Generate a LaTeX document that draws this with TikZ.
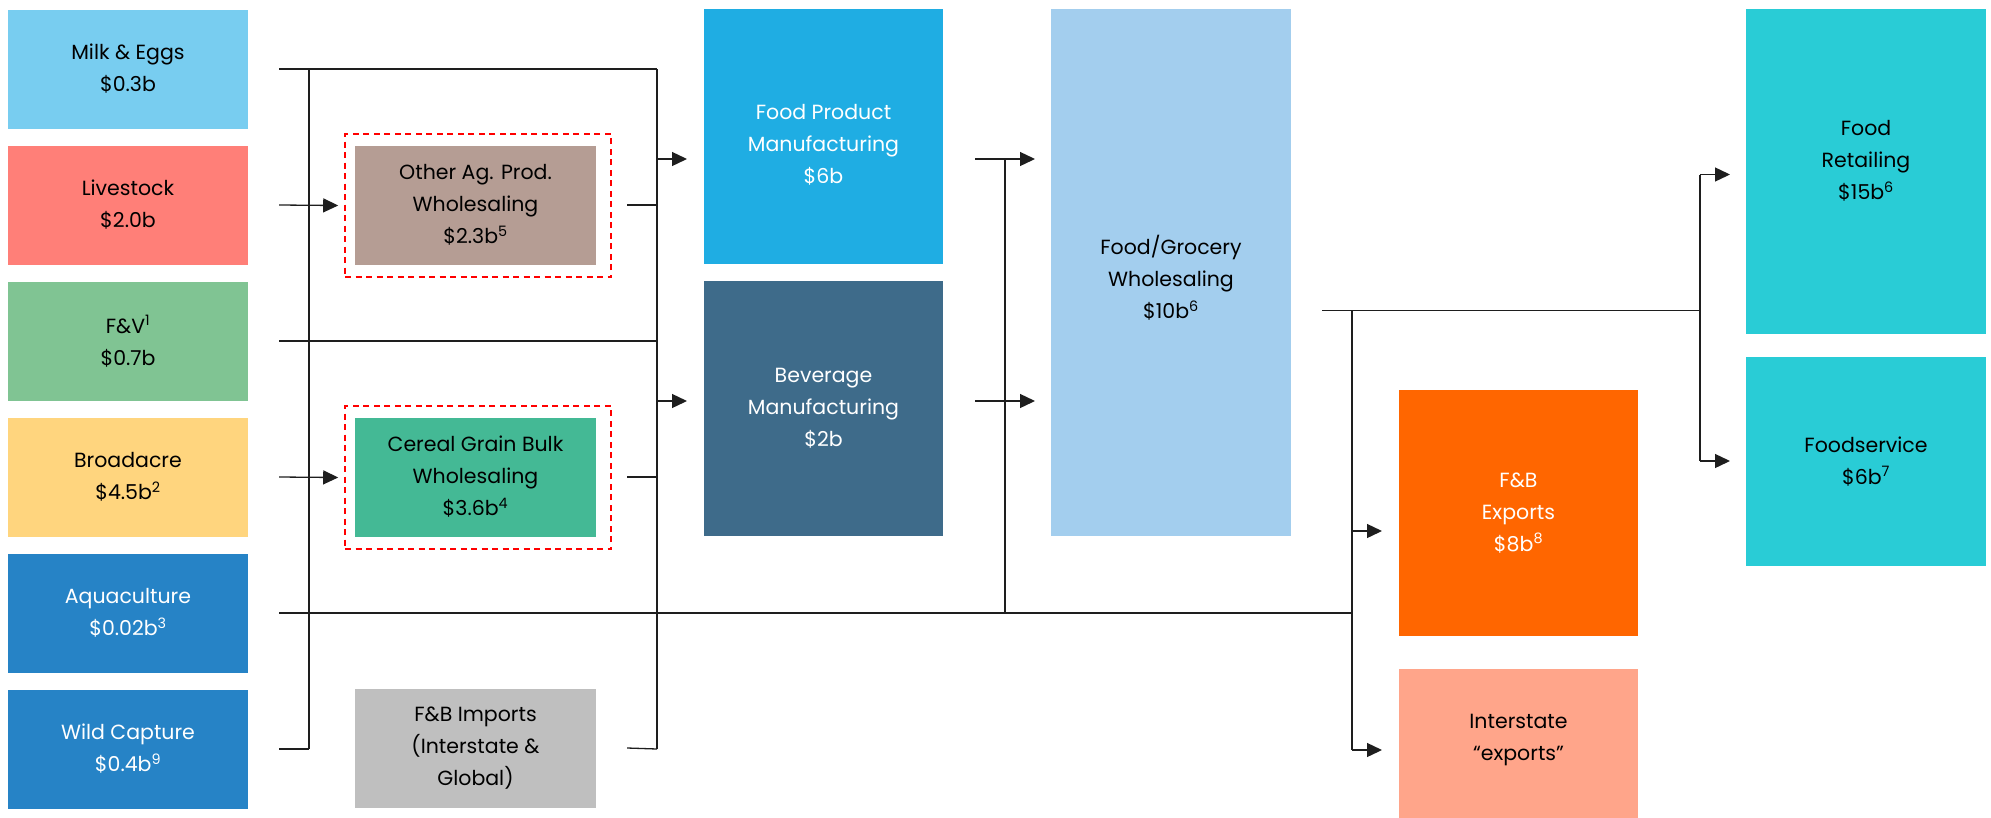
\documentclass[tikz,border=0pt]{standalone}
\usepackage{fontspec}
\setmainfont{Poppins}
\usetikzlibrary{arrows.meta,calc}
\definecolor{cMilk}{HTML}{78CDF0}
\definecolor{cLive}{HTML}{FF7F78}
\definecolor{cFV}{HTML}{80C493}
\definecolor{cBroad}{HTML}{FFD57E}
\definecolor{cSea}{HTML}{2683C6}
\definecolor{cOag}{HTML}{B59D94}
\definecolor{cCereal}{HTML}{44B995}
\definecolor{cImp}{HTML}{BFBFBF}
\definecolor{cFood}{HTML}{1FADE3}
\definecolor{cBev}{HTML}{3E6B8A}
\definecolor{cGroc}{HTML}{A3CEEE}
\definecolor{cExp}{HTML}{FF6600}
\definecolor{cInter}{HTML}{FFA58A}
\definecolor{cRetail}{HTML}{29CCD6}
\definecolor{cWire}{HTML}{1E1E1E}
\begin{document}
\begin{tikzpicture}[x=1pt,y=-1pt,
  box/.style={inner sep=0pt, align=center, text=black,
    font=\fontsize{20.5}{32}\selectfont, minimum width=240pt},
  lbl/.style={inner sep=0pt, align=center, text=black,
    font=\fontsize{20.5}{32}\selectfont},
  wire/.style={line width=1.3pt, draw=cWire},
  arr/.style={wire, -{Triangle[length=15pt,width=14pt]}},
  fence/.style={draw=red, line width=1.6pt, dash pattern=on 6pt off 4.5pt,
    minimum width=266pt, minimum height=143pt, inner sep=0pt}]
\useasboundingbox (0,0) rectangle (1991,817);

% primary producers
\node[box, fill=cMilk,  minimum height=119pt] (milk)  at (128,69)  {Milk \& Eggs\\\$0.3b};
\node[box, fill=cLive,  minimum height=119pt] (live)  at (128,205) {Livestock\\\$2.0b};
\node[box, fill=cFV,    minimum height=119pt] (fv)    at (128,341) {F\&V\textsuperscript{1}\\\$0.7b};
\node[box, fill=cBroad, minimum height=119pt] (broad) at (128,477) {Broadacre\\\$4.5b\textsuperscript{2}};
\node[box, fill=cSea, text=white, minimum height=119pt] (aqua) at (128,613) {Aquaculture\\\$0.02b\textsuperscript{3}};
\node[box, fill=cSea, text=white, minimum height=119pt] (wild) at (128,749) {Wild Capture\\\$0.4b\textsuperscript{9}};

% wholesaling and imports
\node[fence] (fence1) at (478,205.5) {};
\node[fence] (fence2) at (478,477.5) {};
\node[box, fill=cOag,    minimum width=241pt, minimum height=119pt] (oag)    at (475.5,205) {Other Ag. Prod.\\Wholesaling\\\$2.3b\textsuperscript{5}};
\node[box, fill=cCereal, minimum width=241pt, minimum height=119pt] (cereal) at (475.5,477) {Cereal Grain Bulk\\Wholesaling\\\$3.6b\textsuperscript{4}};
\node[box, fill=cImp,    minimum width=241pt, minimum height=119pt] (imp)    at (475.5,748) {F\&B Imports\\(Interstate \&\\Global)};

% manufacturing
\node[box, fill=cFood, minimum width=239pt, minimum height=255pt] (fp)  at (823.5,136.5) {};
\node[lbl, text=white] (fp-t) at (823.5,145) {Food Product\\Manufacturing\\\$6b};
\node[box, fill=cBev, text=white, minimum width=239pt, minimum height=255pt] (bev) at (823.5,408.5) {Beverage\\Manufacturing\\\$2b};

% wholesaling
\node[box, fill=cGroc, minimum height=527pt] (groc) at (1171,272.5) {};
\node[lbl] (groc-t) at (1171,278) {Food/Grocery\\Wholesaling\\\$10b\textsuperscript{6}};

% exports
\node[box, fill=cExp, text=white, minimum width=239pt, minimum height=246pt] (exp) at (1518.5,513) {F\&B\\Exports\\\$8b\textsuperscript{8}};
\node[box, fill=cInter, minimum width=239pt, minimum height=160pt] (inter) at (1518.5,749) {};
\node[lbl] (inter-t) at (1518.5,740) {Interstate\\“exports”};

% retail and service
\node[box, fill=cRetail, minimum height=325pt] (ret) at (1866,171.5) {};
\node[lbl] (ret-t) at (1866,161) {Food\\Retailing\\\$15b\textsuperscript{6}};
\node[box, fill=cRetail, minimum height=209pt] (fs) at (1866,461.5) {Foodservice\\\$6b\textsuperscript{7}};

% junction points
\coordinate (lb-top) at (309,69);
\coordinate (lb-bot) at (309,749);
\coordinate (rb-top) at (657,69);
\coordinate (rb-bot) at (657,749);
\coordinate (rb-fv)  at (657,341);
\coordinate (rb-oag) at (657,205);
\coordinate (rb-cer) at (657,477);
\coordinate (rb-fp)  at (657,159);
\coordinate (rb-bev) at (657,401);
\coordinate (fp-in)  at (687,159);
\coordinate (bev-in) at (687,401);
\coordinate (mb-top) at (1005,159);
\coordinate (mb-bot) at (1005,613);
\coordinate (fpo)    at (975,159);
\coordinate (bevo)   at (975,401);
\coordinate (gr-fp)  at (1035,159);
\coordinate (gr-bev) at (1035,401);
\coordinate (xb-top) at (1352,310.5);
\coordinate (xb-aq)  at (1352,613);
\coordinate (xb-bot) at (1352,750);
\coordinate (exp-in) at (1382,531);
\coordinate (xb-exp) at (1352,531);
\coordinate (int-in) at (1382,750);
\coordinate (sb-top) at (1700,310.5);
\coordinate (sb-ret) at (1700,174.5);
\coordinate (sb-fs)  at (1700,461);
\coordinate (ret-in) at (1730,174.5);
\coordinate (fs-in)  at (1730,461);

% producers to wholesalers and manufacturers
\draw[wire] ([xshift=31pt]milk.east) -- (rb-top);
\draw[wire] (lb-top) -- (lb-bot);
\draw[wire] ([xshift=31pt]wild.east) -- (lb-bot);
\draw[arr] ([xshift=31pt]live.east) -- ([xshift=-6pt]fence1.west);
\draw[wire] ([xshift=31pt]fv.east) -- (rb-fv);
\draw[arr] ([xshift=31pt]broad.east) -- ([xshift=-6pt]fence2.west);
\draw[wire] ([xshift=31pt]aqua.east) -- (xb-aq);
\draw[wire] ([xshift=31pt]oag.east) -- (rb-oag);
\draw[wire] ([xshift=31pt]cereal.east) -- (rb-cer);
\draw[wire] ([xshift=31pt]imp.east) -- (rb-bot);
\draw[wire] (rb-top) -- (rb-bot);
\draw[arr] (rb-fp) -- (fp-in);
\draw[arr] (rb-bev) -- (bev-in);

% manufacturers to grocery wholesaling
\draw[arr] (fpo) -- (gr-fp);
\draw[arr] (bevo) -- (gr-bev);
\draw[wire] (mb-top) -- (mb-bot);

% grocery wholesaling onwards
\draw[wire] ([xshift=31pt]groc.east |- xb-top) -- (sb-top);
\draw[wire] (xb-top) -- (xb-bot);
\draw[arr] (xb-bot) -- (int-in);
\draw[arr] (xb-exp) -- (exp-in);
\draw[wire] (sb-ret) -- (sb-fs);
\draw[arr] (sb-ret) -- (ret-in);
\draw[arr] (sb-fs) -- (fs-in);
\end{tikzpicture}
\end{document}
